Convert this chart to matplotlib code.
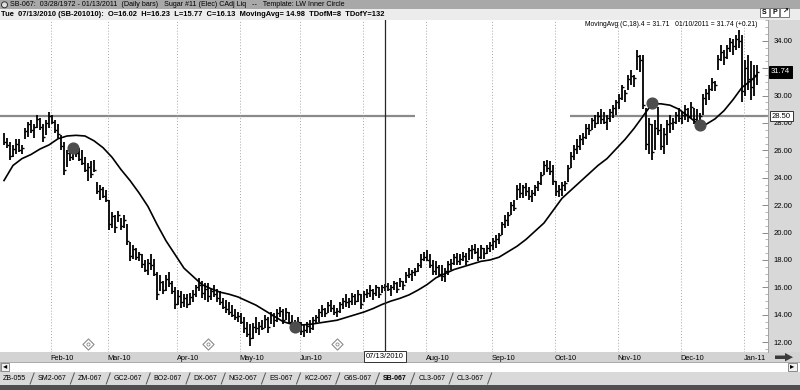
import matplotlib.pyplot as plt
import numpy as np
from matplotlib.patches import Rectangle, Polygon, Ellipse
from matplotlib.lines import Line2D
from matplotlib.ticker import MultipleLocator, FormatStrFormatter
import matplotlib.transforms as mtransforms

# SB-067 daily bars (one value per bar)
highs = [
    27.3, 26.9, 26.6, 26.4, 26.8, 26.8, 26.4, 27.6, 28.1, 28.2,
    27.9, 28.6, 28.4, 27.9, 28.2, 28.8, 28.6, 28.2, 27.9, 27.1,
    26.6, 26.0, 26.2, 26.4, 26.4, 26.2, 26.0, 25.5, 25.1, 25.2,
    25.3, 23.7, 23.5, 23.3, 23.1, 22.4, 21.5, 21.3, 21.6, 21.1,
    21.3, 20.6, 19.3, 19.1, 18.9, 18.6, 18.4, 18.0, 18.1, 18.4,
    18.1, 17.1, 16.9, 16.5, 16.9, 17.1, 16.5, 16.0, 15.8, 15.7,
    15.5, 15.5, 15.6, 15.8, 16.2, 16.7, 16.5, 16.3, 16.3, 15.9,
    16.2, 15.9, 15.7, 15.2, 15.1, 14.9, 14.7, 14.4, 14.2, 14.1,
    13.8, 13.5, 13.3, 13.4, 13.8, 13.5, 13.6, 14.0, 13.8, 14.2,
    14.1, 14.4, 14.6, 14.4, 14.5, 14.2, 14.0, 13.6, 13.8, 13.5,
    13.3, 13.5, 13.6, 13.8, 14.0, 14.4, 14.7, 14.5, 14.9, 15.1,
    14.7, 14.5, 14.9, 15.2, 15.5, 15.2, 15.6, 15.5, 15.8, 15.5,
    15.7, 15.9, 16.2, 15.9, 16.2, 16.0, 16.2, 16.23, 16.3, 16.2,
    16.5, 16.4, 16.7, 16.5, 17.1, 17.4, 17.3, 17.4, 17.8, 18.4,
    18.6, 18.7, 18.4, 18.0, 17.9, 17.6, 17.6, 17.4, 17.9, 18.1,
    18.4, 18.5, 18.4, 18.6, 18.5, 18.9, 19.1, 19.2, 18.9, 19.1,
    18.9, 19.1, 19.3, 19.6, 19.8, 20.0, 20.8, 21.3, 21.5, 22.2,
    22.4, 23.5, 23.6, 23.5, 23.6, 23.3, 23.1, 23.5, 23.8, 24.4,
    25.2, 25.3, 25.2, 24.9, 23.8, 23.5, 23.7, 23.8, 24.9, 25.9,
    26.4, 26.8, 27.1, 27.3, 27.9, 27.9, 28.4, 28.6, 28.8, 29.0,
    28.8, 28.6, 29.0, 29.3, 29.7, 30.1, 30.8, 30.4, 31.5, 31.9,
    31.5, 33.3, 33.0, 33.0, 29.1, 28.4, 27.9, 28.2, 29.2, 27.9,
    27.6, 28.2, 28.6, 28.4, 28.8, 29.1, 28.8, 29.3, 29.1, 29.5,
    29.1, 29.0, 28.7, 30.1, 30.5, 30.8, 31.3, 31.1, 33.0, 33.7,
    33.3, 33.7, 34.2, 34.1, 34.4, 34.8, 34.4, 32.6, 33.0, 32.5,
    32.2, 32.2,
]
lows = [
    26.4, 26.2, 25.3, 25.5, 25.7, 25.9, 25.7, 26.8, 27.0, 27.3,
    26.9, 27.6, 27.5, 26.6, 27.1, 27.6, 27.9, 27.3, 26.9, 26.0,
    24.2, 24.8, 25.2, 25.3, 25.5, 25.2, 24.9, 24.4, 23.8, 24.0,
    24.4, 22.8, 22.4, 22.5, 22.2, 20.2, 20.3, 20.0, 20.8, 20.2,
    20.3, 19.1, 17.9, 18.1, 18.0, 17.9, 17.4, 17.1, 16.9, 17.3,
    16.8, 15.1, 15.7, 15.5, 15.7, 16.0, 15.5, 14.4, 14.7, 14.5,
    14.6, 14.5, 14.7, 14.9, 15.3, 15.7, 15.2, 15.1, 14.9, 15.1,
    15.3, 14.9, 14.7, 14.4, 14.1, 14.0, 13.8, 13.6, 13.5, 13.3,
    12.7, 12.4, 11.7, 12.2, 12.7, 12.5, 12.9, 13.0, 12.7, 13.3,
    13.1, 13.5, 13.8, 13.3, 13.6, 13.3, 13.0, 12.7, 12.9, 12.5,
    12.4, 12.7, 12.7, 12.9, 13.3, 13.5, 13.8, 13.8, 14.1, 14.2,
    14.0, 13.8, 14.1, 14.4, 14.6, 14.5, 14.7, 14.7, 14.9, 14.4,
    14.9, 15.2, 15.3, 15.1, 15.4, 15.2, 15.6, 15.77, 15.7, 15.4,
    15.8, 15.6, 16.0, 15.8, 16.3, 16.7, 16.5, 16.8, 17.1, 17.4,
    17.9, 17.9, 17.4, 16.9, 16.9, 16.8, 16.5, 16.4, 16.9, 17.3,
    17.6, 17.6, 17.6, 17.9, 17.6, 18.0, 18.1, 18.4, 17.9, 18.1,
    18.1, 18.4, 18.6, 18.7, 18.9, 19.2, 19.8, 20.3, 20.5, 21.3,
    21.6, 22.4, 22.5, 22.5, 22.7, 22.4, 22.2, 22.7, 23.0, 23.5,
    24.2, 24.4, 24.2, 23.5, 22.7, 22.6, 22.7, 23.0, 23.7, 24.7,
    25.3, 25.7, 26.0, 26.4, 26.8, 27.1, 27.5, 27.6, 27.9, 27.9,
    27.9, 27.5, 28.1, 28.4, 28.6, 29.0, 29.7, 29.5, 30.4, 30.8,
    30.6, 31.9, 31.7, 29.0, 26.0, 25.7, 25.3, 26.0, 27.1, 26.0,
    25.7, 26.4, 27.3, 27.5, 27.9, 28.1, 27.9, 28.2, 28.1, 28.4,
    27.9, 27.6, 27.6, 28.6, 29.3, 29.7, 30.3, 30.3, 31.9, 32.5,
    32.2, 32.7, 33.2, 33.0, 33.3, 33.5, 29.5, 30.0, 30.4, 29.7,
    30.0, 30.8,
]
closes = [
    26.6, 26.4, 25.6, 26.1, 26.5, 26.0, 26.2, 27.4, 27.9, 27.5,
    27.7, 28.3, 27.7, 27.0, 28.0, 28.5, 28.1, 27.5, 27.2, 26.3,
    24.6, 25.8, 25.5, 26.1, 25.8, 25.4, 25.1, 24.6, 24.8, 24.3,
    24.6, 23.0, 23.2, 22.7, 22.4, 20.6, 21.2, 20.4, 21.3, 20.5,
    20.9, 19.4, 18.3, 18.8, 18.2, 18.4, 17.7, 17.3, 17.8, 17.6,
    17.0, 15.5, 16.4, 15.8, 16.6, 16.3, 15.7, 14.8, 15.4, 14.9,
    15.2, 14.8, 15.3, 15.5, 16.0, 16.2, 15.6, 15.9, 15.4, 15.7,
    15.5, 15.2, 14.9, 14.6, 14.4, 14.2, 14.0, 13.8, 13.9, 13.5,
    13.0, 12.6, 12.3, 13.1, 13.0, 13.2, 13.0, 13.7, 13.1, 14.0,
    13.6, 14.1, 14.3, 13.6, 14.2, 13.5, 13.3, 13.0, 13.5, 12.8,
    12.9, 13.2, 13.0, 13.6, 13.8, 14.2, 14.4, 14.1, 14.7, 14.5,
    14.2, 14.3, 14.8, 15.0, 14.9, 15.0, 15.4, 15.0, 15.5, 14.8,
    15.5, 15.6, 15.8, 15.6, 16.0, 15.5, 16.0, 16.13, 15.9, 16.0,
    16.3, 15.9, 16.5, 16.2, 16.9, 17.0, 17.1, 17.2, 17.6, 18.1,
    18.2, 18.0, 17.6, 17.2, 17.5, 17.0, 16.8, 17.2, 17.7, 17.8,
    18.2, 17.9, 18.1, 18.3, 17.9, 18.7, 18.8, 18.6, 18.2, 18.9,
    18.5, 18.9, 19.1, 19.4, 19.5, 19.8, 20.6, 20.9, 21.3, 22.0,
    21.8, 23.2, 22.9, 23.3, 23.0, 22.7, 22.9, 23.3, 23.6, 24.2,
    24.9, 24.7, 24.5, 23.8, 23.0, 23.2, 23.5, 23.6, 24.7, 25.6,
    26.1, 26.3, 26.8, 27.0, 27.6, 27.5, 28.2, 28.0, 28.5, 28.3,
    28.1, 28.4, 28.8, 29.1, 29.5, 29.8, 30.6, 30.2, 31.2, 31.4,
    31.3, 32.9, 32.6, 29.3, 26.5, 27.9, 25.9, 27.6, 27.5, 26.3,
    27.2, 27.9, 28.0, 28.1, 28.6, 28.4, 28.6, 29.0, 28.5, 29.2,
    28.3, 28.0, 28.5, 29.8, 30.2, 30.5, 31.0, 30.8, 32.7, 33.2,
    32.8, 33.5, 33.9, 33.6, 34.1, 34.0, 30.3, 32.0, 31.2, 30.6,
    31.5, 31.74,
]

# moving average line, read every third bar
ma_bars = list(range(0, 250, 3)) + [251]
ma_values = [
    23.8, 24.9, 25.4, 25.7, 26.1, 26.4, 26.85, 27.05, 27.1, 27.05,
    26.7, 26.2, 25.5, 24.6, 23.8, 22.9, 21.9, 20.6, 19.4, 18.4,
    17.4, 16.8, 16.2, 15.9, 15.65, 15.5, 15.3, 15.0, 14.7, 14.3,
    13.9, 13.5, 13.3, 13.25, 13.3, 13.4, 13.5, 13.6, 13.8, 14.0,
    14.2, 14.45, 14.75, 15.0, 15.2, 15.45, 15.8, 16.2, 16.7, 17.0,
    17.3, 17.5, 17.7, 17.9, 18.0, 18.2, 18.6, 19.0, 19.5, 20.1,
    20.7, 21.6, 22.5, 23.1, 23.7, 24.3, 24.9, 25.4, 26.1, 26.8,
    27.6, 28.5, 29.4, 29.4, 29.3, 29.0, 28.5, 28.0, 27.9, 28.3,
    28.9, 29.7, 30.6, 31.1, 31.5,
]

signal_bars = [23, 97, 216, 232]
signal_prices = [26.2, 13.1, 29.45, 27.85]
diamond_bars = [28, 68, 111]

month_labels = ['Feb-10', 'Mar-10', 'Apr-10', 'May-10', 'Jun-10', 'Jul-10',
                'Aug-10', 'Sep-10', 'Oct-10', 'Nov-10', 'Dec-10', 'Jan-11']
month_first_bar = [16, 35, 58, 79, 99, 120, 141, 163, 184, 205, 226, 247]

level_price = 28.5
level_spans = [(-1.5, 137), (188.5, 255)]

cursor_bar = 127
cursor_date = '07/13/2010'
cursor_open = 16.02
cursor_ma = 14.98
ma_last = 31.71
last_change = 0.21

tabs = ['ZB-055', 'SM2-067', 'ZM-067', 'GC2-067', 'BO2-067', 'DX-067', 'NG2-067',
        'ES-067', 'KC2-067', 'G6S-067', 'SB-067', 'CL3-067', 'CL3-067']
active_tab = 'SB-067'

W, H = 800, 390
plt.rcParams['font.family'] = ['Liberation Sans', 'DejaVu Sans']

fig = plt.figure(figsize=(W / 100, H / 100), dpi=100)


def fx(px):
    return px / W


def fy(py):
    return 1 - py / H


def band(y0, y1, color, x0=0, x1=W, z=-2, **kw):
    r = Rectangle((fx(x0), fy(y1)), fx(x1) - fx(x0), fy(y0) - fy(y1),
                  transform=fig.transFigure, facecolor=color, zorder=z, **kw)
    fig.add_artist(r)
    return r


# window chrome
band(0, 9.5, '#a8a8a8')
band(9.5, 20, '#ececec')
band(20, 352, '#d8d8d8', x0=768)
band(352, 362, '#d3d3d3')
band(362, 372, '#ffffff', edgecolor='#9a9a9a', linewidth=0.6)
band(372, 385, '#d9d9d9')
band(385, 390, '#4f4f4f')

fig.add_artist(Ellipse((fx(4.5), fy(4.8)), fx(6), 6 / H, transform=fig.transFigure,
                       facecolor='#e0e0e0', edgecolor='#333333', linewidth=0.7))
fig.text(fx(10), fy(5), 'SB-067:  03/28/1972 - 01/13/2011  (Daily bars)   Sugar #11 (Elec) CAdj Liq   --   '
         'Template: LW Inner Circle', fontsize=5.1, va='center', ha='left')
fig.text(fx(1), fy(14.8),
         f'Tue  {cursor_date} (SB-201010):  O={cursor_open:.2f}  H={highs[cursor_bar]:.2f}  '
         f'L={lows[cursor_bar]:.2f}  C={closes[cursor_bar]:.2f}  MovingAvg= {cursor_ma:.2f}  TDofM=8  TDofY=132',
         fontsize=5.4, fontweight='bold', va='center', ha='left')

for x0, label in [(760, 'S'), (770, 'P'), (780, '\u2197')]:
    band(8, 17, 'white', x0=x0, x1=x0 + 9, z=3, edgecolor='#666666', linewidth=0.6)
    fig.text(fx(x0 + 4.5), fy(12.6), label, fontsize=5, fontweight='bold', ha='center', va='center', zorder=4)

# price chart
ax = fig.add_axes([0, fy(352), fx(768), fy(20) - fy(352)])
ax.set_xlim(-4 / 3, 764 / 3)
ax.set_ylim(11.28, 35.52)

bars = np.arange(len(highs))
ax.vlines(bars, lows, highs, colors='black', linewidth=1.3)
ax.hlines(closes, bars, bars + 0.6, colors='black', linewidth=1.0)
ax.plot(ma_bars, ma_values, color='black', linewidth=1.2)

for x0, x1 in level_spans:
    ax.hlines(level_price, x0, x1, colors='#8a8a8a', linewidth=1.6, zorder=1)

ax.axvline(cursor_bar, color='#262626', linewidth=0.9)
ax.scatter(signal_bars, signal_prices, s=60, color='#4d4d4d', zorder=5)
ax.scatter(diamond_bars, [0.024] * len(diamond_bars), transform=ax.get_xaxis_transform(),
           marker='D', s=32, facecolor='white', edgecolor='#8c8c8c', linewidth=0.8, clip_on=False)
ax.scatter(diamond_bars, [0.024] * len(diamond_bars), transform=ax.get_xaxis_transform(),
           marker='o', s=5, facecolor='white', edgecolor='#8c8c8c', linewidth=0.6, clip_on=False)

ax.set_xticks([b - 0.5 for b in month_first_bar])
ax.set_xticklabels(month_labels, ha='left', fontsize=5.3)
ax.tick_params(axis='x', length=0, pad=2.5)
ax.grid(axis='x', color='#a6a6a6', linestyle=(0, (1, 2)), linewidth=0.7)
# the July label sits under the cursor date box, as in the platform
ax.get_xticklabels()[month_labels.index('Jul-10')].set_visible(False)

ax.yaxis.tick_right()
ax.yaxis.set_major_locator(MultipleLocator(2))
ax.yaxis.set_minor_locator(MultipleLocator(0.5))
ax.yaxis.set_major_formatter(FormatStrFormatter('%.2f'))
ax.tick_params(axis='y', which='major', direction='in', length=4, width=0.6, color='#777777',
               labelsize=5.5, pad=4)
ax.tick_params(axis='y', which='minor', direction='in', length=2, width=0.5, color='#999999')
for side in ['top', 'left', 'bottom']:
    ax.spines[side].set_visible(False)
ax.spines['right'].set_color('#9a9a9a')
ax.spines['right'].set_linewidth(0.6)

yblend = mtransforms.blended_transform_factory(ax.transAxes, ax.transData)
ax.text(1 + 4 / 768, level_price, f'{level_price:.2f}', transform=yblend, ha='left', va='center',
        fontsize=5.5, zorder=10, clip_on=False,
        bbox=dict(boxstyle='square,pad=0.2', facecolor='white', edgecolor='#333333', linewidth=0.7))
ax.text(1 + 3 / 768, closes[-1], f'{closes[-1]:.2f}', transform=yblend, ha='left', va='center',
        fontsize=5.5, color='white', zorder=10, clip_on=False,
        bbox=dict(boxstyle='square,pad=0.3', facecolor='black', edgecolor='black', linewidth=0.7))
ax.text(cursor_bar, -0.003, cursor_date, transform=ax.get_xaxis_transform(), ha='center', va='top',
        fontsize=5.5, zorder=10, clip_on=False,
        bbox=dict(boxstyle='square,pad=0.3', facecolor='white', edgecolor='#333333', linewidth=0.7))
ax.text(757 / 768, 1 - 5 / 332,
        f'MovingAvg (C,18).4 = {ma_last:.2f}   01/10/2011 = {closes[-1]:.2f} (+{last_change:.2f})',
        transform=ax.transAxes, ha='right', va='center', fontsize=4.9)

# scroll arrow on the date row
arrow = [(775, 355.5), (785, 355.5), (785, 353), (793, 357.2), (785, 361.4), (785, 359), (775, 359)]
fig.add_artist(Polygon([(fx(x), fy(y)) for x, y in arrow], closed=True, transform=fig.transFigure,
                       facecolor='#3a3a3a', edgecolor='none', zorder=3))

# scrollbar buttons
band(363, 371, '#f2f2f2', x0=1, x1=9, z=3, edgecolor='#777777', linewidth=0.6)
fig.text(fx(5), fy(367), '\u25c2', fontsize=6, ha='center', va='center', zorder=4)
band(363, 371, '#f2f2f2', x0=788, x1=797, z=3, edgecolor='#777777', linewidth=0.6)
fig.text(fx(792.5), fy(367), '\u25b8', fontsize=6, ha='center', va='center', zorder=4)

# symbol tabs
renderer = fig.canvas.get_renderer()
x = 3
for name in tabs:
    t = fig.text(fx(x), fy(379), name, fontsize=5.0, va='center', ha='left',
                 fontweight='bold' if name == active_tab else 'normal')
    x_end = t.get_window_extent(renderer).x1
    fig.add_artist(Line2D([fx(x_end + 4), fx(x_end + 8)], [fy(384), fy(373)],
                          transform=fig.transFigure, color='#555555', linewidth=0.7))
    x = x_end + 11.5

fig.savefig('out.png', dpi=100)
